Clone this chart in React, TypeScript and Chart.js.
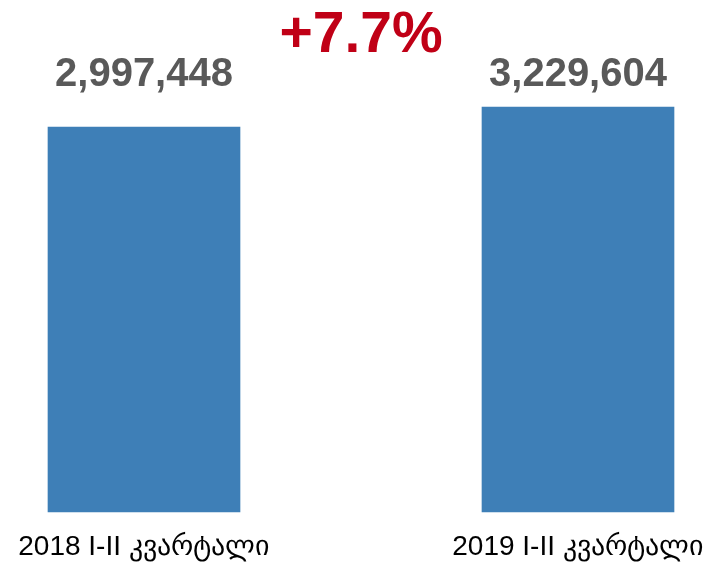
import React, { useEffect, useRef } from "react";
import { Chart, registerables } from "chart.js";

Chart.register(...registerables);

const categories = ["2018 I-II კვარტალი", "2019 I-II კვარტალი"];
const values = [2997448, 3229604];
const changeLabel = "+7.7%";
const Y_MIN = -1471553;
const Y_MAX = 3310861;

const FONT = '"Liberation Sans", Arial, sans-serif';

const valueLabels = {
  id: "valueLabels",
  afterDatasetsDraw(chart: any) {
    const { ctx, chartArea } = chart;
    const meta = chart.getDatasetMeta(0);
    ctx.save();
    ctx.font = `bold 40px ${FONT}`;
    ctx.fillStyle = "#595959";
    ctx.textAlign = "center";
    ctx.textBaseline = "middle";
    meta.data.forEach((el: any, i: number) => {
      ctx.fillText(values[i].toLocaleString("en-US"), el.x, chartArea.top - 25);
    });
    ctx.restore();
  },
};

export default function App() {
  const ref = useRef<HTMLCanvasElement | null>(null);
  useEffect(() => {
    if (!ref.current) return;
    const chart = new Chart(ref.current, {
      type: "bar",
      data: {
        labels: categories,
        datasets: [
          {
            data: values,
            backgroundColor: "#3E7FB7",
            barThickness: 192,
            base: Y_MIN,
            clip: false as any,
          } as any,
        ],
      },
      options: {
        animation: false,
        responsive: true,
        maintainAspectRatio: false,
        layout: { padding: { left: 144, right: 127, top: 0, bottom: 0 } },
        plugins: {
          legend: { display: false },
          tooltip: { enabled: false },
          title: {
            display: true,
            text: changeLabel,
            color: "#C00016",
            font: { family: FONT, size: 57, weight: "bold", lineHeight: 1 },
            padding: { top: 8, bottom: 35 },
          },
        },
        scales: {
          x: {
            offset: false,
            grid: { display: false, drawTicks: false },
            border: { display: false },
            ticks: {
              color: "#000000",
              font: { family: FONT, size: 28 },
              padding: 18,
              maxRotation: 0,
              autoSkip: false,
            },
            afterFit: (scale: any) => {
              scale.height = 50;
              scale.paddingLeft = 0;
              scale.paddingRight = 0;
            },
          },
          y: {
            display: false,
            min: Y_MIN,
            max: Y_MAX,
          },
        },
      },
      plugins: [valueLabels],
    });
    return () => chart.destroy();
  }, []);
  return (
    <div style={{ position: "absolute", left: 0, top: 0, width: 705, height: 562 }}>
      <canvas ref={ref} />
    </div>
  );
}
